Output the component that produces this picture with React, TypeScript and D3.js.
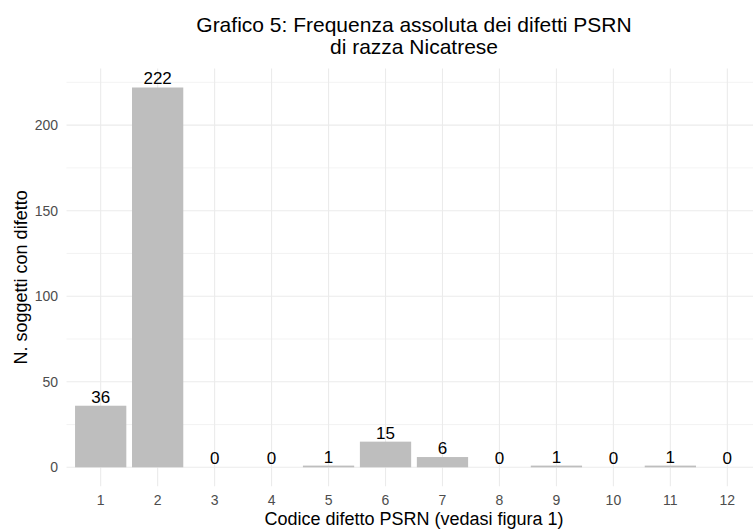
import React from "react";
import * as d3 from "d3";

const categories = ["1", "2", "3", "4", "5", "6", "7", "8", "9", "10", "11", "12"];
const counts = [36, 222, 0, 0, 1, 15, 6, 0, 1, 0, 1, 0];
const yTicks = [0, 50, 100, 150, 200];
const yMinor = [25, 75, 125, 175, 225];
const titleLines = ["Grafico 5: Frequenza assoluta dei difetti PSRN", "di razza Nicatrese"];
const xTitle = "Codice difetto PSRN (vedasi figura 1)";
const yTitle = "N. soggetti con difetto";

const W = 753;
const H = 531;
const panel = { left: 66.5, right: 761.5, top: 68.5, bottom: 486.3 };
const FONT = "'Liberation Sans', Arial, sans-serif";

export default function App() {
  const x = d3
    .scaleBand()
    .domain(categories)
    .range([panel.left, panel.right])
    .paddingInner(0.1)
    .paddingOuter(0.15);
  const center = (c: string) => (x(c) as number) + x.bandwidth() / 2;
  const maxV = d3.max(counts) as number;
  const y = d3
    .scaleLinear()
    .domain([-maxV * 0.05, maxV * 1.05])
    .range([panel.bottom, panel.top]);
  const barW = x.bandwidth();

  return (
    <svg width={W} height={H} style={{ position: "absolute", left: 0, top: 0 }} fontFamily={FONT}>
      <rect x={0} y={0} width={W} height={H} fill="#ffffff" />
      {yMinor.map((t) => (
        <line key={"m" + t} x1={panel.left} x2={panel.right} y1={y(t)} y2={y(t)} stroke="#ebebeb" strokeWidth={0.6} />
      ))}
      {yTicks.map((t) => (
        <line key={"g" + t} x1={panel.left} x2={panel.right} y1={y(t)} y2={y(t)} stroke="#ebebeb" strokeWidth={1.1} />
      ))}
      {categories.map((c) => (
        <line key={"v" + c} x1={center(c)} x2={center(c)} y1={panel.top} y2={panel.bottom} stroke="#ebebeb" strokeWidth={1.1} />
      ))}
      {categories.map((c, i) => (
        <rect
          key={"b" + c}
          x={center(c) - barW / 2}
          y={y(Math.max(counts[i], 0))}
          width={barW}
          height={y(0) - y(counts[i])}
          fill="#bebebe"
        />
      ))}
      {categories.map((c, i) => (
        <text key={"l" + c} x={center(c)} y={y(counts[i]) - 3} textAnchor="middle" fontSize={17} fill="#000">
          {counts[i]}
        </text>
      ))}
      {yTicks.map((t) => (
        <text key={"yt" + t} x={58} y={y(t) + 5} textAnchor="end" fontSize={14} fill="#4d4d4d">
          {t}
        </text>
      ))}
      {categories.map((c) => (
        <text key={"xt" + c} x={center(c)} y={505} textAnchor="middle" fontSize={14} fill="#4d4d4d">
          {c}
        </text>
      ))}
      <text x={(panel.left + panel.right) / 2} y={525} textAnchor="middle" fontSize={18} fill="#000">
        {xTitle}
      </text>
      <text
        transform={`translate(27,${(panel.top + panel.bottom) / 2}) rotate(-90)`}
        textAnchor="middle"
        fontSize={18}
        fill="#000"
      >
        {yTitle}
      </text>
      {titleLines.map((l, i) => (
        <text key={"t" + i} x={(panel.left + panel.right) / 2} y={32 + i * 22} textAnchor="middle" fontSize={21} fill="#000">
          {l}
        </text>
      ))}
    </svg>
  );
}
